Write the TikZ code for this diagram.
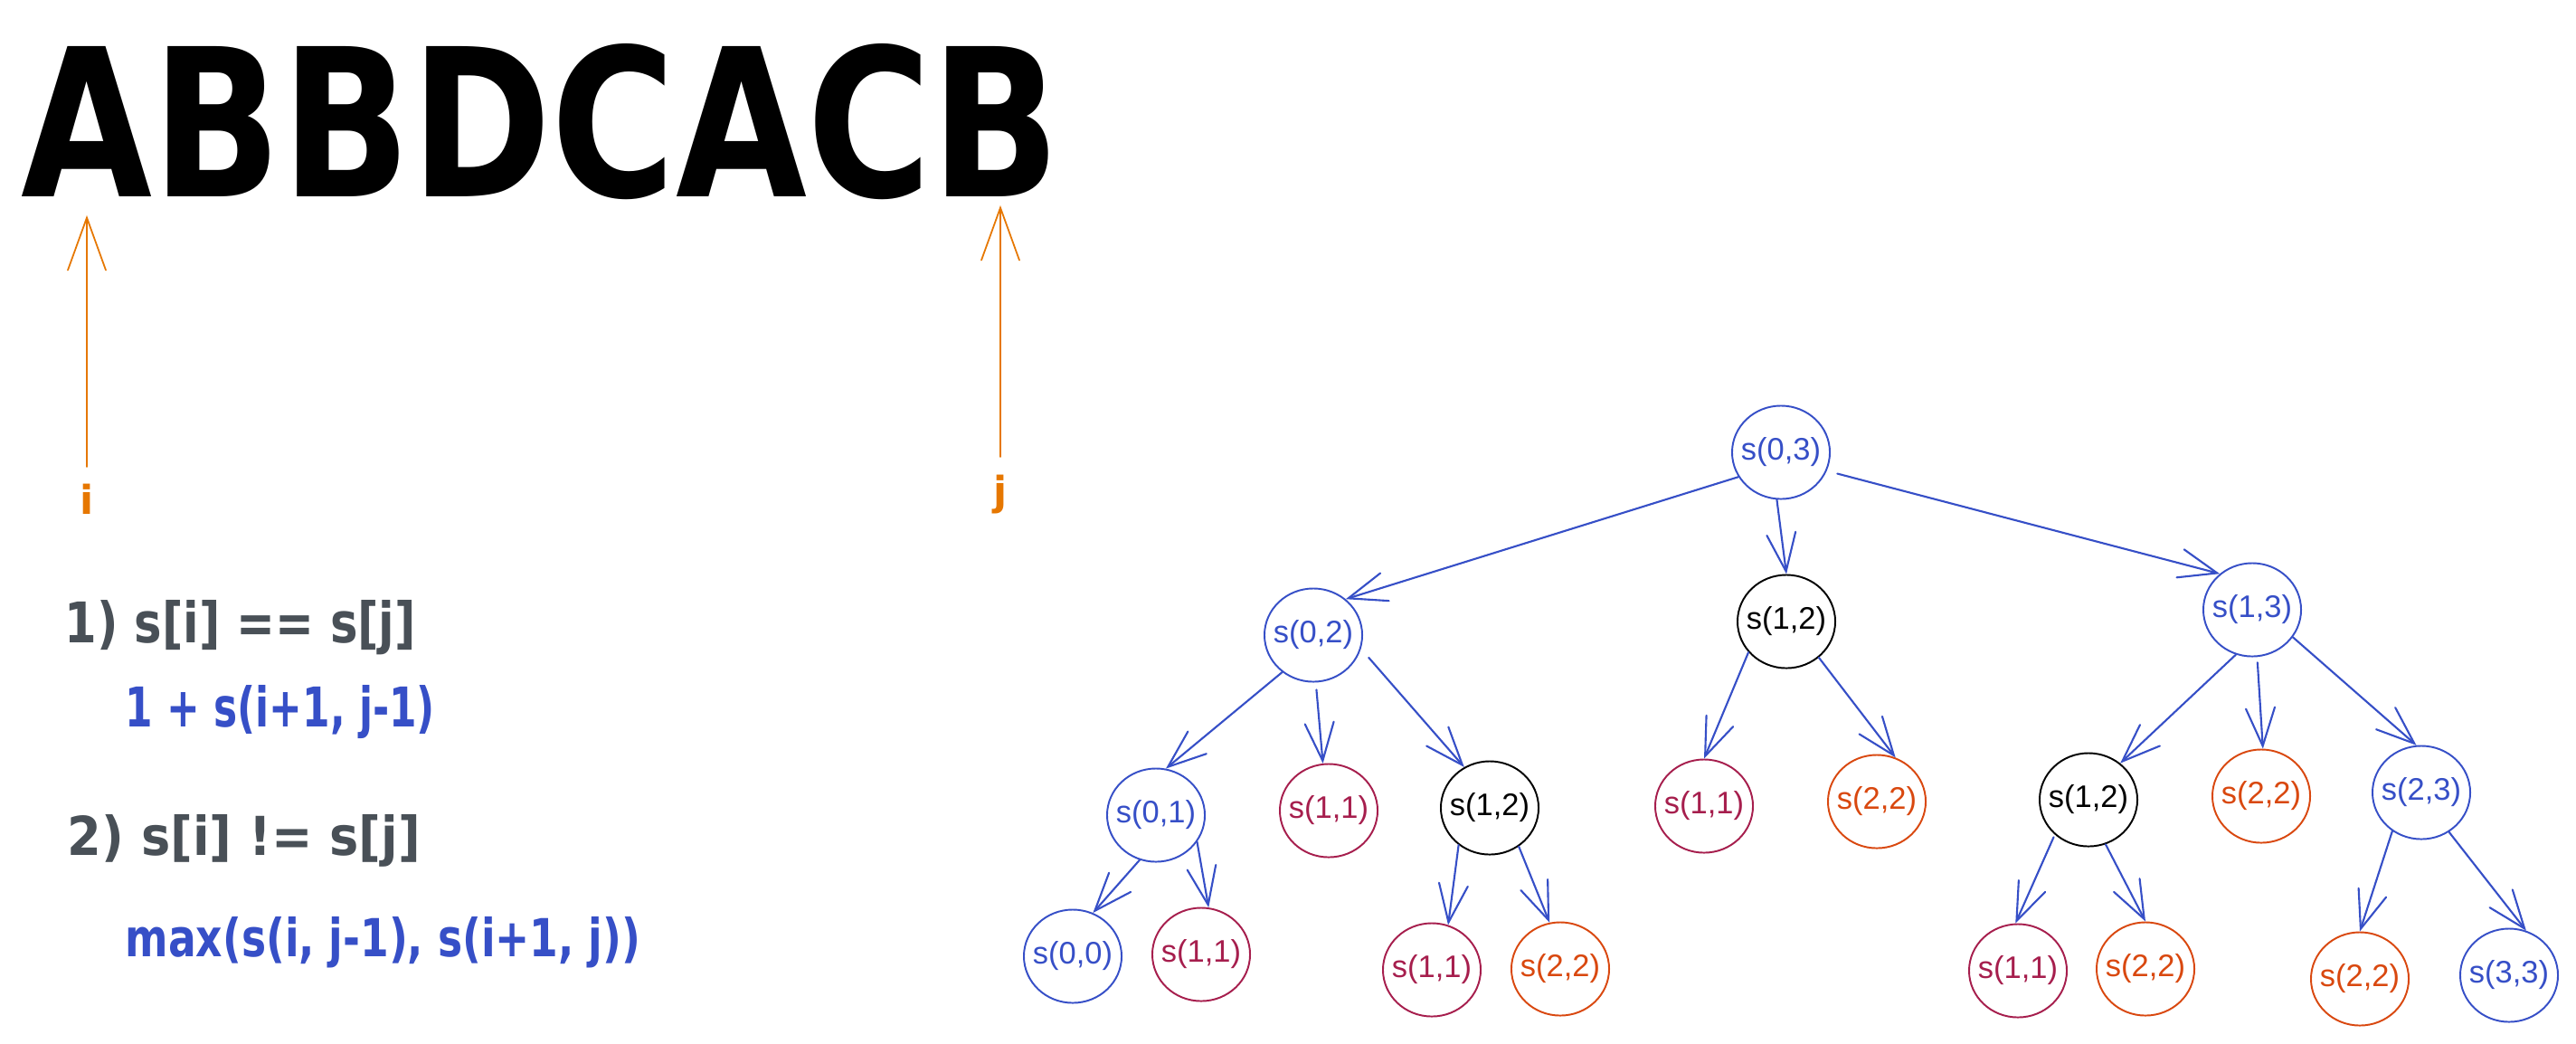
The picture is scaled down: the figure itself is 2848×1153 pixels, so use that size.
\documentclass[tikz,border=0pt]{standalone}
\usepackage{fontspec}
\setmainfont{Liberation Sans}
\newfontfamily\handfont{DejaVu Sans}
\usetikzlibrary{shapes.geometric,arrows.meta}
\definecolor{eblue}{HTML}{364FC7}
\definecolor{ered}{HTML}{A61E4D}
\definecolor{eorange}{HTML}{D9480F}
\definecolor{egray}{HTML}{495057}
\definecolor{eamber}{HTML}{E67700}
\begin{document}
\begin{tikzpicture}[x=0.01cm,y=-0.01cm,
  tnode/.style={ellipse, draw=#1, text=#1, line width=0.55pt,
    minimum width=1.08cm, minimum height=1.03cm, inner sep=0pt,
    font=\fontsize{9.8pt}{11pt}\selectfont},
  tarrow/.style={draw=eblue, line width=0.6pt, line cap=round,
    -{Straight Barb[length=0.42cm,width=0.32cm,line cap=round]}},
  oarrow/.style={draw=eamber, line width=0.5pt, line cap=round,
    -{Straight Barb[length=0.58cm,width=0.42cm,line cap=round]}},
  handtxt/.style={anchor=base west, inner sep=0pt, text=#1},
  ijlbl/.style={anchor=base, inner sep=0pt, text=eamber,
    font=\handfont\bfseries\fontsize{12.5pt}{14pt}\selectfont}
]
\fill[white] (0,0) rectangle (2848,1153);
\useasboundingbox (0,0) rectangle (2848,1153);

% big string
\node[anchor=base west, inner sep=0pt] (title) at (23,217)
  {\resizebox{11.48cm}{1.69cm}{\handfont\bfseries ABBDCACB}};

% i and j pointers
\node[ijlbl] (li) at (96,568) {i};
\node[ijlbl] (lj) at (1106,558) {j};
\coordinate (itip) at (96,238);
\coordinate (jtip) at (1106,227);
\draw[oarrow, shorten <=0.18cm] (li.north) -- (itip);
\draw[oarrow, shorten <=0.19cm] (lj.north) -- (jtip);

% rules
\node[handtxt=egray] (r1) at (71,710)
  {\resizebox{3.88cm}{0.47cm}{\handfont\bfseries 1) s[i] == s[j]}};
\node[handtxt=eblue] (r2) at (138,803)
  {\resizebox{3.42cm}{0.46cm}{\handfont\bfseries 1 + s(i+1, j-1)}};
\node[handtxt=egray] (r3) at (74,945)
  {\resizebox{3.90cm}{0.45cm}{\handfont\bfseries 2) s[i] != s[j]}};
\node[handtxt=eblue] (r4) at (138,1057)
  {\resizebox{5.69cm}{0.44cm}{\handfont\bfseries max(s(i, j-1), s(i+1, j))}};

% tree nodes
\node[tnode=eblue]   (n03)  at (1969,500)  {\makebox[0pt]{s(0,3)}};
\node[tnode=eblue]   (n02)  at (1452,702)  {\makebox[0pt]{s(0,2)}};
\node[tnode=black]   (n12a) at (1975,687)  {\makebox[0pt]{s(1,2)}};
\node[tnode=eblue]   (n13)  at (2490,674)  {\makebox[0pt]{s(1,3)}};
\node[tnode=eblue]   (n01)  at (1278,901)  {\makebox[0pt]{s(0,1)}};
\node[tnode=ered]    (n11a) at (1469,896)  {\makebox[0pt]{s(1,1)}};
\node[tnode=black]   (n12b) at (1647,893)  {\makebox[0pt]{s(1,2)}};
\node[tnode=ered]    (n11b) at (1884,891)  {\makebox[0pt]{s(1,1)}};
\node[tnode=eorange] (n22a) at (2075,886)  {\makebox[0pt]{s(2,2)}};
\node[tnode=black]   (n12c) at (2309,884)  {\makebox[0pt]{s(1,2)}};
\node[tnode=eorange] (n22b) at (2500,880)  {\makebox[0pt]{s(2,2)}};
\node[tnode=eblue]   (n23)  at (2677,876)  {\makebox[0pt]{s(2,3)}};
\node[tnode=eblue]   (n00)  at (1186,1057) {\makebox[0pt]{s(0,0)}};
\node[tnode=ered]    (n11c) at (1328,1055) {\makebox[0pt]{s(1,1)}};
\node[tnode=ered]    (n11d) at (1583,1072) {\makebox[0pt]{s(1,1)}};
\node[tnode=eorange] (n22c) at (1725,1071) {\makebox[0pt]{s(2,2)}};
\node[tnode=ered]    (n11e) at (2231,1073) {\makebox[0pt]{s(1,1)}};
\node[tnode=eorange] (n22d) at (2372,1071) {\makebox[0pt]{s(2,2)}};
\node[tnode=eorange] (n22e) at (2609,1082) {\makebox[0pt]{s(2,2)}};
\node[tnode=eblue]   (n33)  at (2774,1078) {\makebox[0pt]{s(3,3)}};

% tree arrows
\draw[tarrow] (n03.210) -- (n02.48);
\draw[tarrow] (n03.265) -- (n12a.90);
\draw[tarrow, shorten <=0.12cm] (n03.-22) -- (n13.132);
\draw[tarrow] (n02.230) -- (n01.78);
\draw[tarrow, shorten <=0.08cm] (n02.273) -- (n11a.97);
\draw[tarrow, shorten <=0.13cm] (n02.-16) -- (n12b.122);
\draw[tarrow] (n01.250) -- (n00.65);
\draw[tarrow] (n01.-33) -- (n11c.81);
\draw[tarrow] (n12b.230) -- (n11d.70);
\draw[tarrow] (n12b.-53) -- (n22c.103);
\draw[tarrow] (n12a.219) -- (n11b.90);
\draw[tarrow] (n12a.-48) -- (n22a.67);
\draw[tarrow] (n13.250) -- (n12c.49);
\draw[tarrow, shorten <=0.06cm] (n13.276) -- (n22b.88);
\draw[tarrow] (n13.-34) -- (n23.96);
\draw[tarrow, shorten <=0.03cm] (n12c.226) -- (n11e.93);
\draw[tarrow] (n12c.-69) -- (n22d.90);
\draw[tarrow] (n23.233) -- (n22e.90);
\draw[tarrow] (n23.-55) -- (n33.69);
\end{tikzpicture}
\end{document}
